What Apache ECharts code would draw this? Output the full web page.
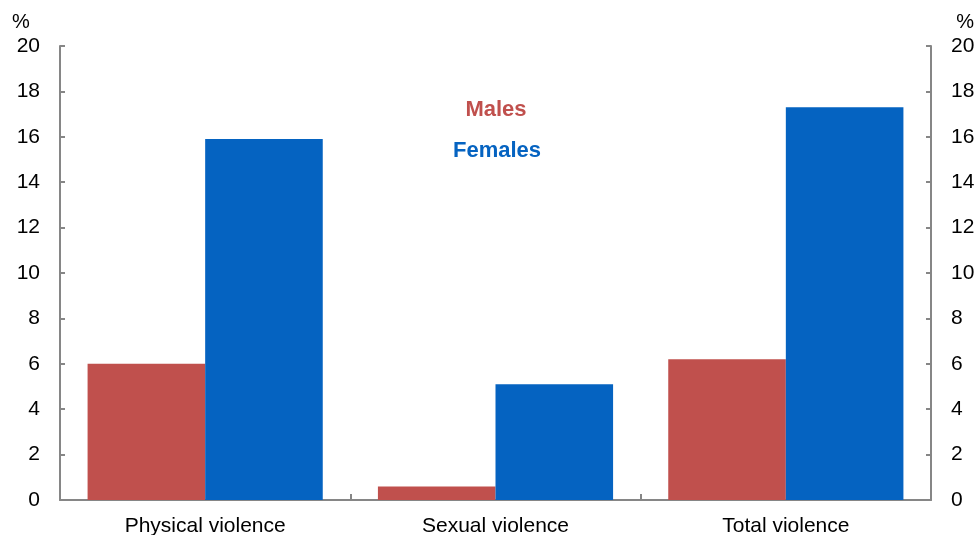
<!DOCTYPE html>
<html>
<head>
<meta charset="utf-8">
<script src="https://cdn.jsdelivr.net/npm/echarts@6/dist/echarts.min.js"></script>
<style>
  html, body { margin: 0; padding: 0; background: #ffffff; }
  #chart { width: 978px; height: 535px; }
</style>
</head>
<body>
<div id="chart"></div>
<script>
// Partner violence experienced, by type and sex (%)
var categories = ['Physical violence', 'Sexual violence', 'Total violence'];
var seriesNames = ['Males', 'Females'];
var malesValues = [6.0, 0.6, 6.2];
var femalesValues = [15.9, 5.1, 17.3];
var yTicks = { min: 0, max: 20, interval: 2 };

var colors = { Males: '#C0504D', Females: '#0563C1' };
var axisGrey = '#868686';
var font = '"Liberation Sans", Arial, sans-serif';

var chart = echarts.init(document.getElementById('chart'), null, { renderer: 'canvas' });

function valueAxis(position) {
  return {
    type: 'value',
    position: position,
    min: yTicks.min,
    max: yTicks.max,
    interval: yTicks.interval,
    axisLine: { show: true, lineStyle: { color: axisGrey, width: 2 } },
    axisTick: { show: true, inside: true, length: 5, lineStyle: { color: axisGrey, width: 2 } },
    axisLabel: { color: '#000', fontFamily: font, fontSize: 21, margin: 20 },
    splitLine: { show: false }
  };
}

chart.setOption({
  animation: false,
  grid: {
    left: 60, right: 47, top: 46, bottom: 35,
    containLabel: false,
    outerBoundsMode: 'none'
  },
  xAxis: {
    type: 'category',
    data: categories,
    boundaryGap: true,
    axisLine: { show: true, lineStyle: { color: axisGrey, width: 2 } },
    axisTick: { show: true, inside: true, length: 6, lineStyle: { color: axisGrey, width: 2 } },
    axisLabel: { color: '#000', fontFamily: font, fontSize: 21, margin: 16 }
  },
  yAxis: [valueAxis('left'), valueAxis('right')],
  series: [
    {
      name: seriesNames[0],
      type: 'bar',
      data: malesValues,
      itemStyle: { color: colors.Males },
      barGap: '0%',
      barCategoryGap: '19%'
    },
    {
      name: seriesNames[1],
      type: 'bar',
      data: femalesValues,
      itemStyle: { color: colors.Females },
      barGap: '0%',
      barCategoryGap: '19%'
    }
  ],
  graphic: [
    { type: 'text', left: 12, top: 12, style: { text: '%', fill: '#000', font: '20px ' + font } },
    { type: 'text', right: 4, top: 12, style: { text: '%', fill: '#000', font: '20px ' + font } },
    {
      type: 'text', x: 496, y: 110,
      style: { text: seriesNames[0], fill: colors.Males, font: 'bold 22px ' + font, align: 'center', verticalAlign: 'middle' }
    },
    {
      type: 'text', x: 497, y: 151,
      style: { text: seriesNames[1], fill: colors.Females, font: 'bold 22px ' + font, align: 'center', verticalAlign: 'middle' }
    }
  ]
});
</script>
</body>
</html>
